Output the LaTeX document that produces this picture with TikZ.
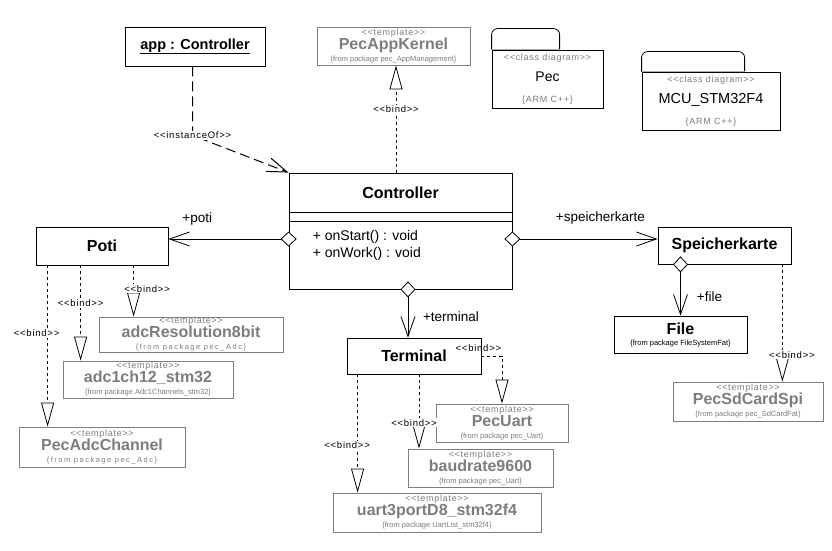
\documentclass[tikz,border=0pt]{standalone}
\usepackage{fontspec}
\setmainfont{Liberation Sans}
\newfontfamily\stfont[LetterSpace=8]{Liberation Sans}
\usetikzlibrary{arrows.meta,positioning}
\definecolor{tpl}{RGB}{125,125,125}
\definecolor{sepgray}{RGB}{170,170,170}
\newcommand{\stereo}[1]{{\stfont\fontsize{9}{10}\selectfont<<#1>>}}
\newcommand{\tmpl}[3][0]{\stereo{template}\\[2pt]{\fontsize{16}{16}\selectfont\bfseries #2}\\{\fontsize{7.5}{8}\selectfont\addfontfeature{LetterSpace=#1}\{from package #3\}}}

\begin{document}
\begin{tikzpicture}[x=1pt,y=-1pt,
  cls/.style={draw,line width=0.8pt,inner sep=0pt,font={\fontsize{16}{18}\selectfont\bfseries}},
  tplbox/.style={draw=tpl,text=tpl,line width=0.8pt,align=center,inner sep=0pt,font={\fontsize{7.5}{12}\selectfont\lineskiplimit=-20pt}},
  pkg/.style={draw,line width=0.8pt,align=center,inner sep=0pt,font={\fontsize{9}{21}\selectfont\lineskiplimit=-20pt}},
  bind/.style={line width=0.8pt,dash pattern=on 3pt off 3pt,-{Triangle[fill=white,length=24pt,width=13pt]}},
  inst/.style={line width=1pt,dash pattern=on 10pt off 5pt,-{Straight Barb[length=20pt,width=14pt]}},
  assoc/.style={line width=0.8pt,{Diamond[fill=white,length=16pt,width=15pt]}-{Straight Barb[length=20pt,width=14pt]},shorten <=-8pt},
  lbl/.style={fill=white,inner sep=1pt,font={\stfont\fontsize{9.5}{10}\selectfont}},
  role/.style={inner sep=0pt,font={\fontsize{13.5}{14}\selectfont}}]
  \path[use as bounding box,fill=white] (0,0) rectangle (832,551);

  % classes
  \node[cls,minimum width=140pt,minimum height=39pt,font={\fontsize{14.5}{16}\selectfont\bfseries}] (app) at (195,46.5) {\underline{app : Controller}};
  \node[cls,minimum width=223pt,minimum height=116pt] (ctrl) at (400.5,231) {};
  \node[cls,draw=none,minimum height=39pt,below=0pt of ctrl.north] (ctrlname) {Controller};
  \coordinate (sepa) at (ctrlname.south);
  \coordinate (sepb) at ([yshift=-9pt]ctrlname.south);
  \draw[line width=0.8pt] (sepa -| ctrl.west) -- (sepa -| ctrl.east);
  \draw[line width=0.8pt] (sepb -| ctrl.west) -- (sepb -| ctrl.east);
  \node[role,font={\fontsize{14}{17}\selectfont},align=left,anchor=west] (ops) at ([xshift=24pt,yshift=-14.5pt]ctrl.west) {+ onStart() : void\\+ onWork() : void};
  \node[cls,minimum width=132pt,minimum height=38pt] (poti) at (102,246) {Poti};
  \node[cls,minimum width=134pt,minimum height=36pt] (term) at (414,356) {Terminal};
  \node[cls,minimum width=133pt,minimum height=37pt] (speicher) at (724.5,245.5) {Speicherkarte};
  \node[cls,minimum width=133pt,minimum height=37pt,align=center] (file) at (680.5,334.5) {File\\[-7pt]{\fontsize{7.5}{8}\selectfont\mdseries\{from package FileSystemFat\}}};

  % templates
  \node[tplbox,minimum width=153pt,minimum height=38pt] (kernel) at (393.5,46) {\tmpl{PecAppKernel}{pec\_AppManagement}};
  \node[tplbox,minimum width=184pt,minimum height=35pt] (adcres) at (191,334.5) {\tmpl[20]{adcResolution8bit}{pec\_Adc}};
  \node[tplbox,minimum width=170pt,minimum height=37pt] (adc1) at (148,379.5) {\tmpl{adc1ch12\_stm32}{Adc1Channels\_stm32}};
  \node[tplbox,minimum width=166pt,minimum height=40pt] (adcch) at (102,447) {\tmpl[20]{PecAdcChannel}{pec\_Adc}};
  \node[tplbox,minimum width=132pt,minimum height=38pt] (pecuart) at (502,423) {\tmpl{PecUart}{pec\_Uart}};
  \node[tplbox,minimum width=145pt,minimum height=38pt] (baud) at (480.5,468) {\tmpl{baudrate9600}{pec\_Uart}};
  \node[tplbox,minimum width=208pt,minimum height=39pt] (uart) at (437,512.5) {\tmpl{uart3portD8\_stm32f4}{UartList\_stm32f4}};
  \node[tplbox,minimum width=150pt,minimum height=39pt] (sdspi) at (748,401.5) {\tmpl{PecSdCardSpi}{pec\_SdCardFat}};

  % packages
  \node[pkg,minimum width=111pt,minimum height=58pt] (pec) at (547.5,79) {{\color{tpl}\stereo{class diagram}}\\{\fontsize{14}{14}\selectfont Pec}\\{\color{tpl}\stfont\fontsize{9}{10}\selectfont\{ARM C++\}}};
  \draw[line width=0.8pt,rounded corners=6pt,fill=white] (pec.north west) -- ++(0,-21) -- ++(68,0) -- ++(0,21);
  \draw[sepgray,line width=1pt] (pec.north west) -- ++(68,0);
  \node[pkg,minimum width=138pt,minimum height=58pt] (mcu) at (711,101) {{\color{tpl}\stereo{class diagram}}\\{\fontsize{14.5}{14}\selectfont MCU\_STM32F4}\\{\color{tpl}\stfont\fontsize{9}{10}\selectfont\{ARM C++\}}};
  \draw[line width=0.8pt,rounded corners=6pt,fill=white] (mcu.north west) -- ++(0,-20) -- ++(103,0) -- ++(0,20);
  \draw[sepgray,line width=1pt] (mcu.north west) -- ++(103,0);

  % associations
  \coordinate (cw) at ([yshift=-8pt]ctrl.west);
  \coordinate (ce) at ([yshift=-8pt]ctrl.east);
  \coordinate (cs) at ([xshift=7.5pt]ctrl.south);
  \draw[assoc] (cw) -- (cw -| poti.east) node[role,pos=.76,yshift=20pt] (rpoti) {+poti};
  \draw[assoc] (ce) -- (ce -| speicher.west) node[role,pos=.606,yshift=21pt] (rspeicher) {+speicherkarte};
  \draw[assoc] (cs) -- (cs |- term.north) node[role,pos=.57,xshift=43pt] (rterm) {+terminal};
  \draw[assoc] (file.north |- speicher.south) -- (file.north) node[role,pos=.63,xshift=29pt] (rfile) {+file};

  % instance
  \coordinate (aa) at ([xshift=-2.5pt]app.south);
  \draw[inst] (aa) -- ++(0,69) node[lbl] (binst) {<<instanceOf>>} -- (ctrl.north west);

  % binds
  \coordinate (cn) at ([xshift=-4.5pt]ctrl.north);
  \draw[bind] (cn) -- (cn |- kernel.south) node[lbl,pos=.59] (bk) {<<bind>>};
  \coordinate (pa) at ([xshift=12pt]poti.south west);
  \coordinate (pb) at ([xshift=45pt]poti.south west);
  \coordinate (pc) at ([xshift=98pt]poti.south west);
  \draw[bind] (pa) -- (pa |- adcch.north) node[lbl,pos=.42,xshift=-11pt] (bpa) {<<bind>>};
  \draw[bind] (pb) -- (pb |- adc1.north) node[lbl,pos=.4] (bpb) {<<bind>>};
  \draw[bind] (pc) -- (pc |- adcres.north) node[lbl,pos=.46,xshift=13.5pt] (bpc) {<<bind>>};
  \coordinate (ta) at ([xshift=11pt]term.south west);
  \coordinate (tb) at ([xshift=5pt]term.south);
  \draw[bind] (term.east) -| (pecuart.north) node[lbl,fill=none,pos=0,anchor=south,xshift=-3pt,yshift=3pt] (bt1) {<<bind>>};
  \draw[bind] (tb) -- (tb |- baud.north) node[lbl,pos=.65,xshift=-5pt] (bt2) {<<bind>>};
  \draw[bind] (ta) -- (ta |- uart.north) node[lbl,pos=.6,xshift=-10.5pt] (bt3) {<<bind>>};
  \coordinate (sa) at ([xshift=-9pt]speicher.south east);
  \draw[bind] (sa) -- (sa |- sdspi.north) node[lbl,pos=.77,xshift=9.5pt] (bs) {<<bind>>};
\end{tikzpicture}
\end{document}
